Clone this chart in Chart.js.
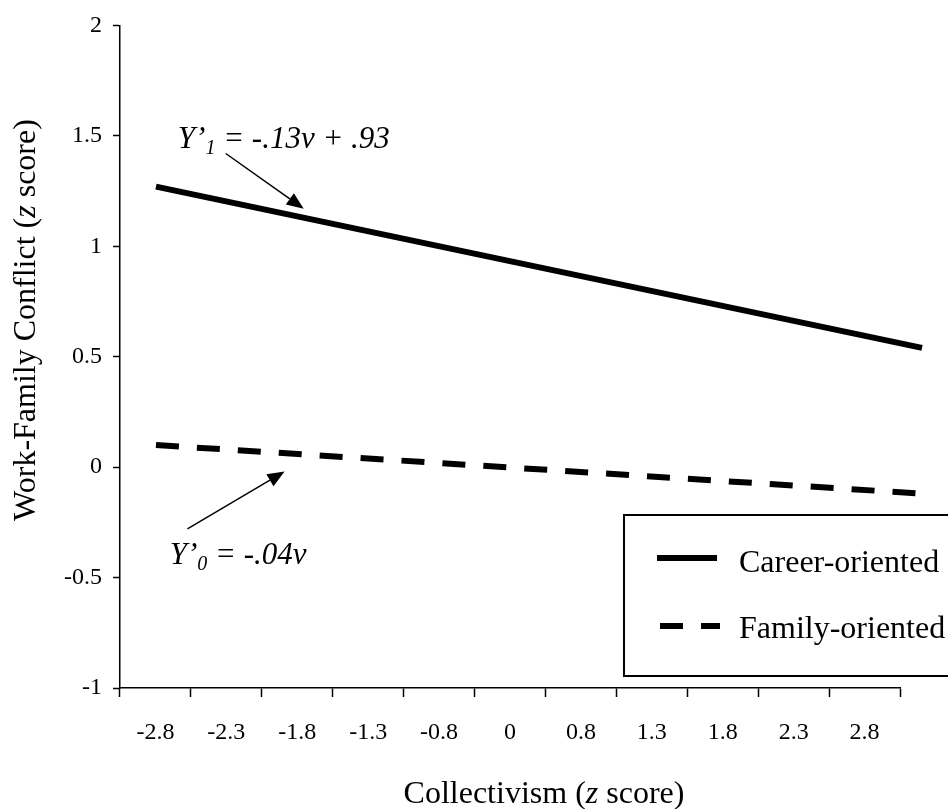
<!DOCTYPE html>
<html>
<head>
<meta charset="utf-8">
<title>Work-Family Conflict by Collectivism</title>
<script src="https://cdn.jsdelivr.net/npm/chart.js@4.4.1/dist/chart.umd.min.js"></script>
<style>
  html, body { margin: 0; padding: 0; background: #fff; }
  #wrap { width: 948px; height: 809px; }
</style>
</head>
<body>
<div id="wrap"><canvas id="wfcChart" width="948" height="809"></canvas></div>
<script>
// --- Data ---
const xLabels = ['-2.8', '-2.3', '-1.8', '-1.3', '-0.8', '0', '0.8', '1.3', '1.8', '2.3', '2.8'];
const yTicks = [-1, -0.5, 0, 0.5, 1, 1.5, 2];
const seriesNames = ['Career-oriented', 'Family-oriented'];
const collectivism = [-2.8, 2.8];      // v at both ends of the lines
const careerWfc = [1.27, 0.54];
const familyWfc = [0.10, -0.12];

// Equation labels, anchored in data units (v on the hidden axis, y on the y axis)
const notes = [
    { sub: '1', rest: ' = -.13v + .93', v: -2.64, y: 1.445, from: [-2.29, 1.42], to: [-1.72, 1.17] },
    { sub: '0', rest: ' = -.04v', v: -2.70, y: -0.44, from: [-2.57, -0.28], to: [-1.86, -0.02] }
];

const serif = "'Liberation Serif', 'Times New Roman', serif";
Chart.defaults.font.family = serif;
Chart.defaults.color = '#000';

// --- Helpers ---
function pairUp(xs, ys) {
    return xs.map((x, i) => ({ x: x, y: ys[i] }));
}

// draws text made of runs ({t, italic}) centred on x
function drawRuns(c, runs, x, y, size) {
    let total = 0;
    runs.forEach(r => {
        c.font = (r.italic ? 'italic ' : '') + size + 'px ' + serif;
        r.w = c.measureText(r.t).width;
        total += r.w;
    });
    let cx = x - total / 2;
    runs.forEach(r => {
        c.font = (r.italic ? 'italic ' : '') + size + 'px ' + serif;
        c.fillText(r.t, cx, y);
        cx += r.w;
    });
}

function drawArrow(c, x1, y1, x2, y2) {
    const ang = Math.atan2(y2 - y1, x2 - x1);
    const len = 17, half = 7;
    const bx = x2 - len * Math.cos(ang), by = y2 - len * Math.sin(ang);
    c.lineWidth = 1.5;
    c.beginPath();
    c.moveTo(x1, y1);
    c.lineTo(bx, by);
    c.stroke();
    c.beginPath();
    c.moveTo(x2, y2);
    c.lineTo(bx + half * Math.sin(ang), by - half * Math.cos(ang));
    c.lineTo(bx - half * Math.sin(ang), by + half * Math.cos(ang));
    c.closePath();
    c.fill();
}

// --- Plugin: titles, equations, legend box ---
const extras = {
    id: 'extras',
    afterDraw(chart) {
        const c = chart.ctx;
        const xs = chart.scales.x2, ys = chart.scales.y;
        c.save();
        c.fillStyle = '#000';
        c.strokeStyle = '#000';
        c.textBaseline = 'alphabetic';
        c.textAlign = 'left';

        // axis titles
        drawRuns(c, [{ t: 'Collectivism (' }, { t: 'z', italic: true }, { t: ' score)' }], 544, 803, 32);
        c.save();
        c.translate(35, 320);
        c.rotate(-Math.PI / 2);
        drawRuns(c, [{ t: 'Work-Family Conflict (' }, { t: 'z', italic: true }, { t: ' score)' }], 0, 0, 32);
        c.restore();

        // equations + arrows
        notes.forEach(n => {
            let x = xs.getPixelForValue(n.v);
            const y = ys.getPixelForValue(n.y);
            c.font = 'italic 31px ' + serif;
            c.fillText('Y\u2019', x, y);
            x += c.measureText('Y\u2019').width;
            c.font = 'italic 20px ' + serif;
            c.fillText(n.sub, x, y + 6);
            x += c.measureText(n.sub).width;
            c.font = 'italic 31px ' + serif;
            c.fillText(n.rest, x, y);
            drawArrow(c,
                xs.getPixelForValue(n.from[0]), ys.getPixelForValue(n.from[1]),
                xs.getPixelForValue(n.to[0]), ys.getPixelForValue(n.to[1]));
        });

        // legend box
        c.lineWidth = 2;
        c.strokeRect(624, 515, 340, 161);
        chart.data.datasets.forEach((ds, i) => {
            const ly = 558 + i * 68;
            c.save();
            c.lineWidth = ds.borderWidth;
            c.setLineDash(ds.borderDash || []);
            c.beginPath();
            c.moveTo(i ? 660 : 657, ly);
            c.lineTo(i ? 720 : 717, ly);
            c.stroke();
            c.restore();
            c.font = '32px ' + serif;
            c.fillText(ds.label, 739, ly + 14 - i * 2);
        });
        c.restore();
    }
};

// --- Chart ---
const ctx = document.getElementById('wfcChart').getContext('2d');
new Chart(ctx, {
    type: 'line',
    data: {
        datasets: [{
            label: seriesNames[0],
            data: pairUp(collectivism, careerWfc),
            xAxisID: 'x2',
            borderColor: '#000',
            borderWidth: 6,
            pointRadius: 0,
            clip: false
        }, {
            label: seriesNames[1],
            data: pairUp(collectivism, familyWfc),
            xAxisID: 'x2',
            borderColor: '#000',
            borderWidth: 6,
            borderDash: [23, 18],
            pointRadius: 0,
            clip: false
        }]
    },
    options: {
        responsive: false,
        animation: false,
        layout: { padding: { top: 17, right: 48, left: 0, bottom: 0 } },
        plugins: { legend: { display: false }, tooltip: { enabled: false } },
        scales: {
            x: {
                type: 'category',
                labels: xLabels,
                offset: true,
                grid: { offset: true, drawOnChartArea: false, tickLength: 9, tickColor: '#000', tickWidth: 1.5 },
                border: { color: '#000', width: 1.5 },
                ticks: { font: { size: 24 }, padding: 21, maxRotation: 0, autoSkip: false },
                afterFit: s => { s.height = 121; }
            },
            x2: { type: 'linear', display: false, min: -3.063, max: 2.639 },
            y: {
                min: -1,
                max: 2,
                afterBuildTicks: s => { s.ticks = yTicks.map(v => ({ value: v })); },
                grid: { drawOnChartArea: false, tickLength: 7, tickColor: '#000', tickWidth: 1.5 },
                border: { color: '#000', width: 1.5 },
                ticks: { font: { size: 24 }, padding: 11, callback: v => String(v) },
                afterFit: s => { s.width = 120; }
            }
        }
    },
    plugins: [extras]
});
</script>
</body>
</html>
